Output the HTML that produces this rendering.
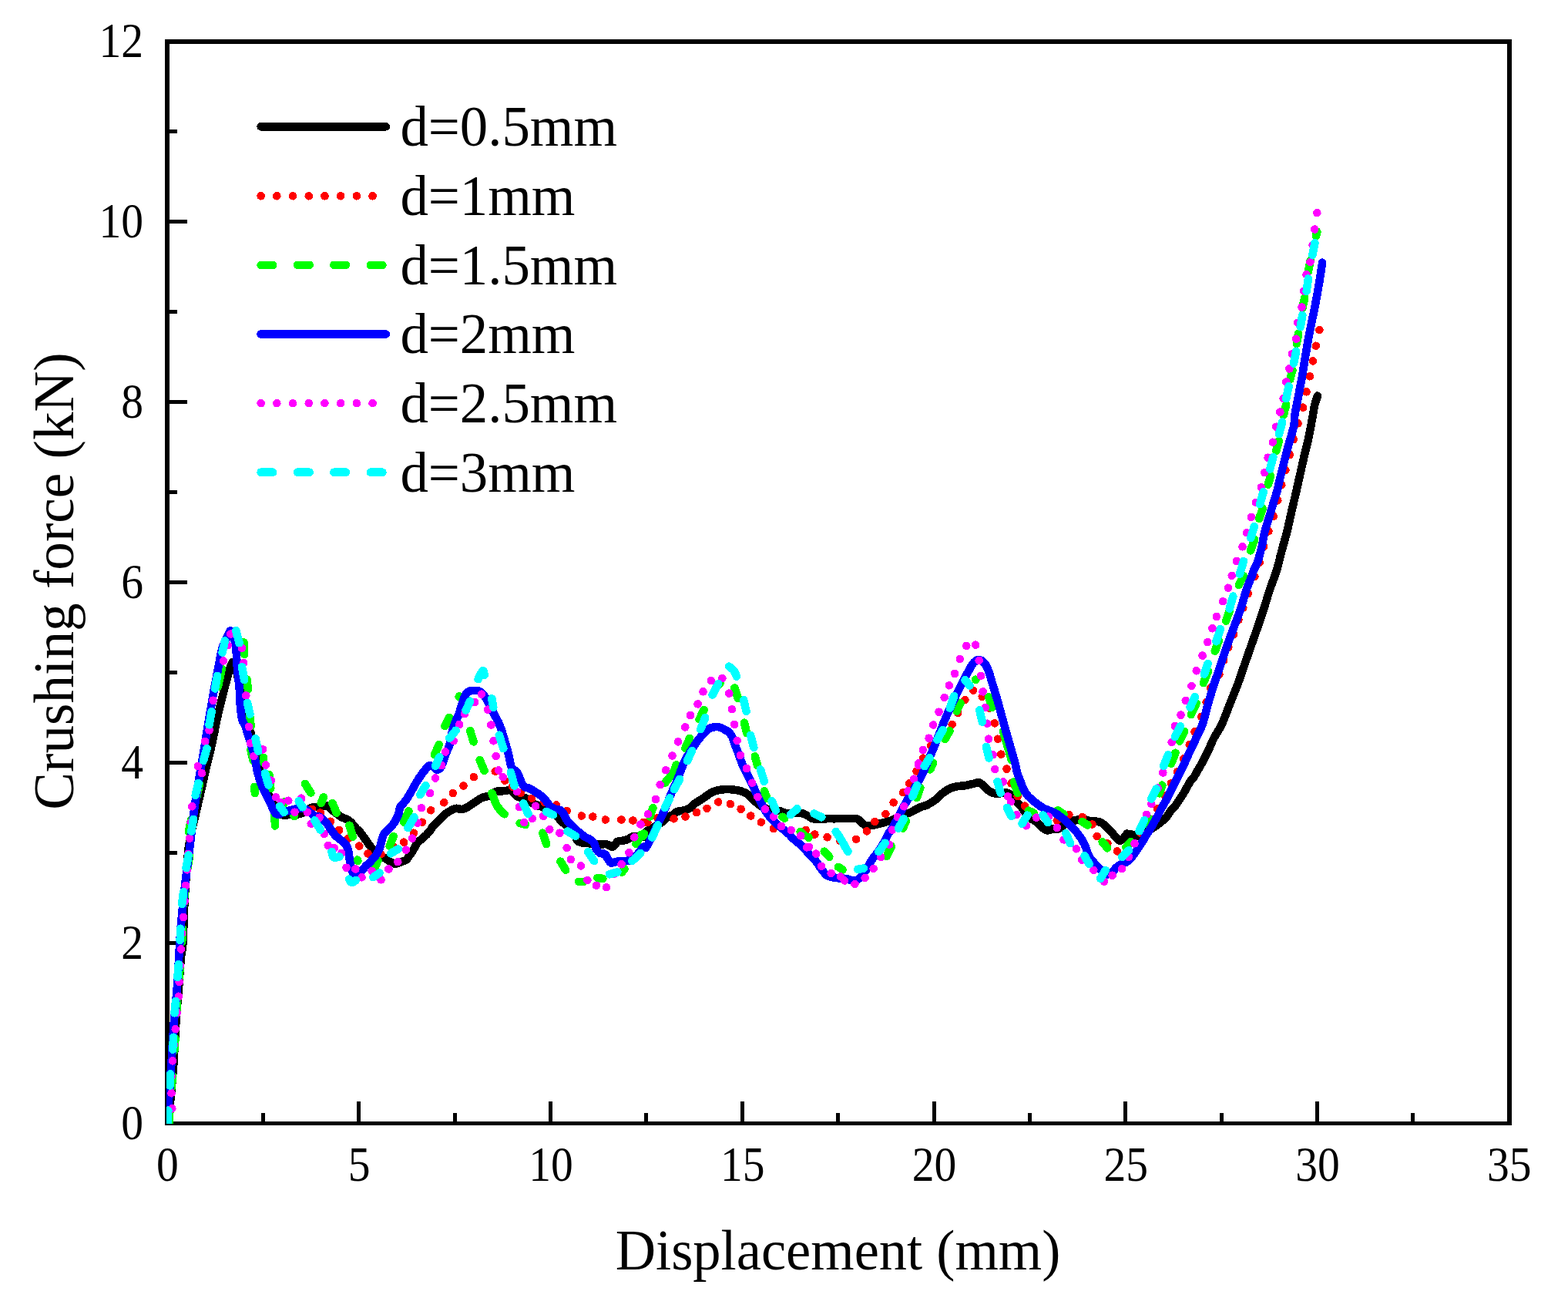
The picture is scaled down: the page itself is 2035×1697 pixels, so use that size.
<!DOCTYPE html>
<html lang="en">
<head>
<meta charset="utf-8">
<title>Crushing force vs displacement</title>
<style>
html,body{margin:0;padding:0;background:#fff;}
body{width:2035px;height:1697px;overflow:hidden;}
svg{display:block;}
text{font-family:"Liberation Serif","Times New Roman",serif;fill:#000;}
.tick{font-size:60px;}
.title{font-size:72.5px;}
.ytitle{font-size:73.2px;}
.leg{font-size:72.8px;}
.c{fill:none;stroke-width:10.6;stroke-linecap:round;stroke-linejoin:round;}
</style>
</head>
<body>
<svg xmlns="http://www.w3.org/2000/svg" width="2035" height="1697" viewBox="0 0 2035 1697">
<defs><clipPath id="plotclip"><rect x="216" y="54" width="1742" height="1404"/></clipPath></defs>
<rect x="0" y="0" width="2035" height="1697" fill="#ffffff"/>
<g class="axes" shape-rendering="crispEdges" fill="#000">
<rect x="214" y="51" width="1748" height="6"/>
<rect x="214" y="1455" width="1748" height="5"/>
<rect x="214" y="51" width="6" height="1409"/>
<rect x="1956" y="51" width="6" height="1409"/>
<rect x="339" y="1444" width="5" height="12"/>
<rect x="463" y="1429" width="5" height="27"/>
<rect x="588" y="1444" width="5" height="12"/>
<rect x="712" y="1429" width="5" height="27"/>
<rect x="836" y="1444" width="5" height="12"/>
<rect x="961" y="1429" width="5" height="27"/>
<rect x="1085" y="1444" width="5" height="12"/>
<rect x="1210" y="1429" width="5" height="27"/>
<rect x="1334" y="1444" width="5" height="12"/>
<rect x="1458" y="1429" width="5" height="27"/>
<rect x="1583" y="1444" width="5" height="12"/>
<rect x="1707" y="1429" width="5" height="27"/>
<rect x="1831" y="1444" width="5" height="12"/>
<rect x="219" y="1338" width="11" height="5"/>
<rect x="219" y="1221" width="24" height="5"/>
<rect x="219" y="1104" width="11" height="5"/>
<rect x="219" y="987" width="24" height="5"/>
<rect x="219" y="870" width="11" height="5"/>
<rect x="219" y="753" width="24" height="5"/>
<rect x="219" y="636" width="11" height="5"/>
<rect x="219" y="519" width="24" height="5"/>
<rect x="219" y="402" width="11" height="5"/>
<rect x="219" y="285" width="24" height="5"/>
<rect x="219" y="168" width="11" height="5"/>
</g>
<g class="curves" shape-rendering="crispEdges" clip-path="url(#plotclip)">
<path class="c" stroke="#000000" d="M218.5 1457.0C218.8 1453.3 219.9 1441.8 220.5 1435.0C221.1 1428.2 221.5 1425.3 222.3 1416.0C223.1 1406.7 224.4 1393.5 225.4 1379.0C226.4 1364.5 227.1 1345.7 228.2 1329.0C229.3 1312.3 231.1 1293.6 232.2 1279.0C233.3 1264.4 234.1 1250.9 235.0 1241.5C235.9 1232.1 236.7 1235.1 237.5 1222.7C238.3 1210.3 238.4 1187.8 239.7 1167.0C240.9 1146.2 242.8 1115.7 245.0 1098.0C247.2 1080.3 250.0 1073.2 252.8 1060.7C255.6 1048.2 259.0 1034.5 261.6 1023.0C264.2 1011.5 266.8 999.2 268.5 992.0C270.2 984.8 270.2 986.2 271.6 980.0C273.1 973.8 275.4 963.3 277.2 955.0C279.0 946.7 280.3 938.3 282.2 930.0C284.1 921.7 286.3 913.3 288.4 905.0C290.5 896.7 293.0 886.5 294.7 880.0C296.4 873.5 297.4 869.5 298.6 866.0C299.8 862.5 300.9 859.5 302.0 859.0C303.1 858.5 303.8 859.5 305.0 863.0C306.2 866.5 307.8 873.8 309.0 880.0C310.2 886.2 311.1 893.3 312.0 900.0C312.9 906.7 313.7 914.2 314.5 920.0C315.3 925.8 315.8 930.8 317.0 935.0C318.2 939.2 320.6 942.5 322.0 945.0C323.4 947.5 324.7 948.8 325.3 950.0C325.9 951.2 324.1 947.9 325.4 952.5C326.6 957.1 330.8 969.1 332.9 977.5C334.9 985.8 336.0 995.2 337.9 1002.5C339.7 1009.8 341.5 1015.0 344.1 1021.2C346.7 1027.4 351.0 1035.2 353.5 1039.9C355.9 1044.7 357.2 1047.2 358.7 1049.9C360.2 1052.6 360.6 1054.9 362.5 1056.2C364.3 1057.4 367.5 1057.3 370.0 1057.4C372.5 1057.5 374.5 1057.0 377.5 1056.8C380.4 1056.6 384.5 1056.7 387.4 1056.2C390.4 1055.7 392.4 1054.9 394.9 1053.7C397.4 1052.4 400.1 1049.8 402.4 1048.7C404.7 1047.6 406.4 1047.4 408.7 1047.1C411.0 1046.7 413.5 1047.0 416.2 1046.8C418.8 1046.6 422.1 1045.1 424.5 1045.7C426.9 1046.4 428.7 1049.0 430.7 1050.7C432.8 1052.4 434.9 1054.2 437.0 1055.7C439.1 1057.3 440.9 1058.8 443.2 1060.1C445.5 1061.3 448.6 1062.1 450.7 1063.2C452.8 1064.4 453.9 1065.1 455.7 1067.0C457.6 1068.8 459.9 1072.2 462.0 1074.5C464.1 1076.7 466.1 1078.2 468.2 1080.7C470.3 1083.2 472.4 1086.5 474.5 1089.4C476.5 1092.4 478.6 1095.7 480.7 1098.2C482.8 1100.7 484.9 1102.6 487.0 1104.4C489.0 1106.3 491.1 1108.0 493.2 1109.4C495.3 1110.9 497.2 1111.7 499.4 1113.2C501.7 1114.6 504.7 1116.9 506.9 1118.2C509.2 1119.4 510.9 1120.7 513.2 1120.7C515.5 1120.7 518.4 1119.0 520.7 1118.2C523.0 1117.3 525.1 1117.1 526.9 1115.7C528.8 1114.2 530.3 1111.7 531.9 1109.4C533.6 1107.1 535.3 1104.6 536.9 1101.9C538.6 1099.2 539.8 1095.7 541.9 1093.2C544.0 1090.7 546.9 1089.2 549.4 1086.9C551.9 1084.7 554.8 1081.9 556.9 1079.4C559.0 1077.0 559.8 1074.5 561.9 1072.0C564.0 1069.5 566.9 1067.0 569.4 1064.5C571.9 1062.0 574.4 1059.0 576.9 1057.0C579.4 1054.9 581.9 1053.3 584.4 1052.0C586.9 1050.6 589.4 1049.2 591.9 1048.8C594.4 1048.5 596.9 1050.4 599.4 1050.1C601.9 1049.8 604.4 1048.3 606.9 1047.0C609.4 1045.6 611.5 1043.8 614.4 1042.0C617.2 1040.1 621.6 1037.1 624.0 1035.7C626.4 1034.4 626.9 1034.5 629.0 1033.9C631.1 1033.2 634.0 1033.1 636.5 1032.0C639.0 1030.8 641.5 1027.9 644.0 1027.0C646.5 1026.0 649.2 1026.6 651.5 1026.4C653.8 1026.1 655.9 1026.0 657.7 1025.7C659.6 1025.4 661.3 1024.1 662.7 1024.5C664.2 1024.9 665.0 1026.8 666.5 1028.2C667.9 1029.7 669.8 1032.1 671.5 1033.2C673.1 1034.4 674.6 1034.7 676.5 1035.1C678.3 1035.5 680.8 1034.8 682.7 1035.7C684.6 1036.7 685.8 1039.5 687.7 1040.7C689.6 1042.0 692.1 1042.4 694.0 1043.2C695.8 1044.0 697.3 1044.8 699.0 1045.5C700.6 1046.1 700.2 1045.3 704.0 1047.2C707.7 1049.2 717.5 1054.3 721.4 1057.2C725.4 1060.1 725.6 1062.6 727.7 1064.7C729.8 1066.8 731.6 1068.2 733.9 1070.0C736.2 1071.7 739.3 1073.0 741.4 1075.2C743.5 1077.4 745.2 1080.7 746.4 1083.2C747.7 1085.7 747.7 1088.4 748.9 1090.1C750.2 1091.7 751.8 1092.6 753.9 1093.2C756.0 1093.8 759.3 1093.6 761.4 1093.8C763.5 1094.0 763.5 1094.1 766.4 1094.4C769.3 1094.8 775.8 1095.6 778.9 1095.7C782.0 1095.8 783.3 1095.0 785.2 1095.1C787.0 1095.2 788.7 1095.7 790.2 1096.3C791.6 1096.9 792.7 1098.7 793.9 1098.8C795.1 1098.9 796.4 1098.1 797.6 1096.9C798.9 1095.8 799.7 1093.0 801.4 1091.9C803.1 1090.9 805.4 1091.2 807.6 1090.7C809.9 1090.2 812.8 1089.8 815.1 1088.8C817.4 1087.9 819.1 1085.7 821.4 1085.1C823.7 1084.4 826.4 1085.0 828.9 1085.1C831.3 1085.2 834.8 1086.2 836.0 1085.7C837.2 1085.2 834.8 1083.6 836.1 1081.9C837.3 1080.3 841.0 1077.4 843.5 1075.7C846.0 1074.0 848.5 1073.4 851.0 1072.0C853.5 1070.5 856.0 1068.8 858.5 1067.0C861.0 1065.1 863.5 1062.4 866.0 1060.7C868.5 1059.0 871.4 1058.2 873.5 1057.0C875.6 1055.7 876.8 1054.0 878.5 1053.2C880.1 1052.4 881.8 1052.3 883.5 1052.0C885.1 1051.7 886.6 1051.9 888.5 1051.3C890.3 1050.8 892.6 1050.2 894.7 1048.8C896.8 1047.5 898.7 1045.0 901.0 1043.2C903.3 1041.5 906.0 1039.9 908.5 1038.2C911.0 1036.6 913.5 1034.9 916.0 1033.2C918.5 1031.6 921.0 1029.5 923.4 1028.2C925.9 1026.9 928.2 1026.1 930.9 1025.5C933.7 1024.8 936.8 1024.4 939.7 1024.2C942.6 1024.0 945.7 1024.1 948.4 1024.2C951.1 1024.4 953.4 1024.6 955.9 1025.1C958.4 1025.6 961.1 1026.1 963.4 1027.0C965.7 1027.8 967.8 1028.9 969.7 1030.1C971.5 1031.4 973.0 1032.9 974.7 1034.5C976.3 1036.0 977.8 1037.8 979.7 1039.5C981.5 1041.1 983.8 1043.0 985.9 1044.5C988.0 1045.9 990.1 1047.2 992.2 1048.2C994.2 1049.3 995.3 1050.1 998.4 1050.7C1001.5 1051.3 1007.6 1051.3 1010.9 1052.0C1014.2 1052.6 1015.9 1053.8 1018.4 1054.5C1020.9 1055.1 1023.4 1055.7 1025.9 1055.7C1028.4 1055.7 1030.9 1054.6 1033.4 1054.5C1035.9 1054.4 1038.4 1054.5 1040.9 1055.1C1043.3 1055.7 1045.8 1057.1 1048.0 1058.2C1050.2 1059.4 1052.2 1061.2 1054.2 1062.0C1056.3 1062.7 1057.4 1062.5 1060.5 1062.6C1063.6 1062.6 1068.8 1062.3 1073.0 1062.2C1077.1 1062.1 1081.3 1062.3 1085.5 1062.2C1089.6 1062.2 1094.4 1062.0 1098.0 1062.0C1101.5 1061.9 1104.2 1061.9 1106.7 1062.0C1109.2 1062.1 1111.1 1061.8 1113.0 1062.6C1114.8 1063.4 1116.3 1065.6 1118.0 1067.0C1119.6 1068.3 1121.1 1070.0 1123.0 1070.7C1124.8 1071.4 1127.1 1071.4 1129.2 1071.3C1131.3 1071.2 1133.2 1070.6 1135.4 1070.1C1137.7 1069.6 1140.4 1068.8 1142.9 1068.2C1145.4 1067.6 1148.1 1067.0 1150.4 1066.3C1152.7 1065.7 1152.9 1066.0 1156.7 1064.5C1160.4 1062.9 1169.0 1058.6 1172.9 1057.0C1176.9 1055.3 1177.9 1055.5 1180.4 1054.5C1182.9 1053.4 1185.4 1052.0 1187.9 1050.7C1190.4 1049.5 1192.9 1048.0 1195.4 1047.0C1197.9 1045.9 1200.4 1045.6 1202.9 1044.5C1205.4 1043.3 1208.1 1041.6 1210.4 1040.1C1212.7 1038.6 1214.6 1037.5 1216.7 1035.7C1218.7 1034.0 1220.8 1031.2 1222.9 1029.5C1225.0 1027.7 1227.1 1026.4 1229.1 1025.1C1231.2 1023.9 1233.1 1022.8 1235.4 1022.0C1237.7 1021.1 1240.4 1020.5 1242.9 1020.1C1245.4 1019.7 1247.5 1019.9 1250.4 1019.5C1253.2 1019.1 1257.6 1018.1 1260.0 1017.6C1262.4 1017.1 1263.3 1016.8 1265.0 1016.4C1266.7 1015.9 1268.3 1014.8 1270.0 1015.1C1271.7 1015.4 1273.3 1016.9 1275.0 1018.2C1276.7 1019.6 1278.3 1021.8 1280.0 1023.2C1281.7 1024.7 1283.1 1025.9 1285.0 1027.0C1286.9 1028.0 1289.1 1029.1 1291.2 1029.5C1293.3 1029.9 1295.6 1029.7 1297.5 1029.5C1299.4 1029.3 1300.8 1028.3 1302.5 1028.2C1304.1 1028.1 1305.8 1028.2 1307.5 1028.9C1309.1 1029.5 1310.8 1030.4 1312.5 1032.0C1314.1 1033.5 1315.8 1036.3 1317.5 1038.2C1319.1 1040.1 1320.8 1041.3 1322.5 1043.2C1324.1 1045.1 1325.8 1047.2 1327.5 1049.5C1329.1 1051.8 1330.8 1054.9 1332.5 1057.0C1334.1 1059.0 1335.8 1060.7 1337.5 1062.0C1339.1 1063.2 1340.8 1063.4 1342.5 1064.5C1344.1 1065.5 1345.8 1066.7 1347.4 1068.2C1349.1 1069.7 1350.8 1071.7 1352.4 1073.2C1354.1 1074.7 1355.8 1076.3 1357.4 1077.0C1359.1 1077.6 1360.8 1077.3 1362.4 1077.0C1364.1 1076.6 1365.8 1075.3 1367.4 1075.1C1369.1 1074.9 1370.8 1076.0 1372.4 1075.7C1374.1 1075.4 1375.8 1074.2 1377.4 1073.2C1379.1 1072.2 1380.6 1070.7 1382.4 1069.5C1384.3 1068.2 1386.6 1066.5 1388.7 1065.7C1390.8 1064.9 1392.8 1064.9 1394.9 1064.5C1397.0 1064.0 1399.1 1063.4 1401.2 1063.2C1403.2 1063.0 1405.1 1062.9 1407.4 1063.2C1409.7 1063.5 1412.4 1064.7 1414.9 1065.1C1417.4 1065.5 1420.1 1065.4 1422.4 1065.7C1424.7 1066.0 1426.8 1066.1 1428.7 1067.0C1430.5 1067.8 1432.0 1069.2 1433.6 1070.7C1435.3 1072.2 1437.0 1074.0 1438.6 1075.7C1440.3 1077.4 1442.0 1078.8 1443.6 1080.7C1445.3 1082.6 1447.0 1085.3 1448.6 1086.9C1450.3 1088.6 1452.0 1090.7 1453.6 1090.7C1455.3 1090.7 1457.2 1088.4 1458.6 1086.9C1460.1 1085.5 1461.7 1082.7 1462.4 1081.9C1463.0 1081.2 1461.6 1082.3 1462.5 1082.4C1463.3 1082.5 1465.6 1082.2 1467.5 1082.4C1469.3 1082.6 1471.8 1083.2 1473.7 1083.7C1475.6 1084.1 1476.4 1085.5 1478.7 1084.9C1481.0 1084.3 1484.7 1081.6 1487.4 1079.9C1490.2 1078.3 1492.4 1076.6 1494.9 1074.9C1497.4 1073.3 1500.1 1071.6 1502.4 1069.9C1504.7 1068.3 1506.6 1066.8 1508.7 1064.9C1510.8 1063.1 1513.1 1061.0 1514.9 1058.7C1516.8 1056.4 1518.3 1053.3 1519.9 1051.2C1521.6 1049.1 1523.3 1048.3 1524.9 1046.2C1526.6 1044.1 1528.3 1041.2 1529.9 1038.7C1531.6 1036.2 1533.3 1033.9 1534.9 1031.2C1536.6 1028.5 1538.3 1025.4 1539.9 1022.5C1541.6 1019.5 1543.2 1016.2 1544.9 1013.7C1546.6 1011.2 1548.2 1010.0 1549.9 1007.5C1551.6 1005.0 1553.2 1001.6 1554.9 998.7C1556.6 995.8 1558.2 993.1 1559.9 990.0C1561.6 986.8 1563.2 983.3 1564.9 980.0C1566.6 976.6 1568.2 973.5 1569.9 970.0C1571.6 966.4 1572.3 963.8 1574.9 958.7C1577.5 953.7 1582.1 947.2 1585.6 939.9C1589.0 932.6 1592.2 923.2 1595.6 914.9C1598.9 906.6 1602.4 898.2 1605.6 889.9C1608.7 881.6 1611.4 873.3 1614.3 864.9C1617.2 856.6 1620.1 848.3 1623.0 839.9C1626.0 831.6 1628.9 823.3 1631.8 815.0C1634.6 806.6 1637.4 798.3 1640.2 790.0C1642.9 781.6 1645.2 773.3 1648.0 765.0C1650.8 756.6 1654.4 748.2 1656.9 739.9C1659.5 731.5 1661.2 723.2 1663.4 714.9C1665.6 706.6 1668.2 698.2 1670.3 689.9C1672.4 681.6 1674.0 673.3 1675.9 664.9C1677.8 656.6 1679.9 648.3 1681.8 639.9C1683.7 631.6 1685.5 623.3 1687.4 615.0C1689.3 606.6 1691.1 598.3 1693.0 590.0C1695.0 581.6 1697.3 573.3 1699.0 565.0C1700.8 556.6 1702.5 546.1 1703.7 539.9C1704.8 533.6 1705.0 531.1 1705.8 527.4C1706.6 523.6 1708.0 519.7 1708.7 517.4C1709.3 515.1 1709.7 514.3 1709.9 513.6"/>
<path class="c" stroke="#ff0000" d="M404.9 1049.9h0.01M415.7 1054.5h0.01M428.9 1065.7h0.01M440.1 1077.0h0.01M452.0 1087.6h0.01M466.3 1097.6h0.01M477.6 1107.6h0.01M494.5 1108.2h0.01M510.7 1098.8h0.01M524.2 1092.6h0.01M536.9 1080.7h0.01M547.9 1066.7h0.01M559.2 1051.3h0.01M576.3 1041.3h0.01M587.8 1029.1h0.01M601.5 1019.5h0.01M614.8 1008.2h0.01M642.7 1000.7h0.01M655.2 1012.6h0.01M665.2 1020.7h0.01M675.8 1028.9h0.01M690.2 1035.7h0.01M706.5 1040.7h0.01M722.1 1044.5h0.01M735.8 1052.0h0.01M754.8 1058.5h0.01M769.3 1059.5h0.01M785.8 1063.5h0.01M806.4 1063.5h0.01M821.4 1064.5h0.01M835.1 1067.0h0.01M840.4 1067.0h0.01M853.5 1061.3h0.01M874.5 1062.2h0.01M889.5 1059.5h0.01M904.1 1054.1h0.01M917.5 1048.8h0.01M932.2 1040.5h0.01M947.8 1043.2h0.01M961.6 1049.7h0.01M974.3 1058.5h0.01M987.8 1066.7h0.01M1003.8 1075.1h0.01M1045.9 1077.0h0.01M1057.4 1082.6h0.01M1073.6 1086.3h0.01M1089.9 1090.7h0.01M1111.1 1088.8h0.01M1124.8 1078.4h0.01M1135.4 1066.0h0.01M1149.4 1056.1h0.01M1159.6 1041.3h0.01M1172.1 1028.2h0.01M1180.2 1016.4h0.01M1189.5 1000.5h0.01M1263.1 895.6h0.01M1252.4 908.1h0.01M1274.7 903.7h0.01M1243.1 924.9h0.01M1283.7 918.7h0.01M1235.6 939.9h0.01M1290.8 938.4h0.01M1294.9 958.7h0.01M1208.1 967.4h0.01M1299.3 978.6h0.01M1198.1 983.6h0.01M1306.5 997.6h0.01M1312.5 1016.4h0.01M1320.6 1033.2h0.01M1330.0 1045.7h0.01M1371.8 1064.5h0.01M1387.4 1057.0h0.01M1404.9 1060.1h0.01M1417.4 1069.5h0.01M1423.7 1085.1h0.01M1437.4 1094.4h0.01M1449.9 1104.4h0.01M1481.2 1081.2h0.01M1493.1 1063.1h0.01M1501.8 1049.3h0.01M1511.8 1032.4h0.01M1519.9 1016.2h0.01M1528.0 1001.2h0.01M1536.2 984.3h0.01M1543.7 966.2h0.01M1550.5 949.4h0.01M1619.9 770.0h0.01M1613.3 788.7h0.01M1607.4 804.3h0.01M1601.2 823.1h0.01M1594.3 839.9h0.01M1588.1 856.8h0.01M1582.4 874.9h0.01M1571.2 892.4h0.01M1565.6 911.1h0.01M1559.3 929.9h0.01M1684.5 549.4h0.01M1678.9 570.0h0.01M1673.9 590.0h0.01M1668.3 610.0h0.01M1663.3 629.3h0.01M1658.3 649.3h0.01M1652.7 669.9h0.01M1646.4 689.3h0.01M1640.2 709.3h0.01M1634.6 729.9h0.01M1628.3 748.0h0.01M1712.4 428.1h0.01M1707.8 448.7h0.01M1703.9 468.4h0.01M1699.9 488.3h0.01M1695.5 508.4h0.01M1691.2 528.6h0.01"/>
<path class="c" stroke="#00ff00" d="M220.3 1442.7L219.4 1456.7M223.7 1395.5L222.9 1410.6M236.8 1204.7L236.2 1221.9M233.9 1252.4L232.6 1269.3M230.2 1300.2L228.9 1315.5M227.4 1347.1L226.5 1363.0M258.9 1017.2L255.5 1033.0M248.2 1063.4L244.8 1079.3M246.0 1110.9L243.3 1127.3M240.0 1158.4L238.1 1174.1M282.9 891.0L287.9 867.6M316.4 833.4L317.2 849.0M320.5 881.5L321.9 894.7M324.2 928.9L325.6 942.1M325.4 972.6L328.5 986.8M330.3 1020.9L330.9 1029.0M349.3 1005.2L351.3 1022.8M342.0 982.8L342.3 989.7M356.4 1057.7L357.0 1071.5M368.0 1043.7L369.4 1039.9M381.3 1057.6L381.7 1059.2M395.9 1016.9L403.3 1028.6M416.6 1042.1L419.9 1034.3M431.5 1041.9L436.8 1054.6M453.5 1070.8L457.9 1085.6M463.9 1115.6L464.4 1117.0M490.5 1116.2L487.2 1123.9M510.6 1085.0L505.7 1097.6M530.4 1052.4L524.1 1066.5M563.9 979.4L569.7 966.0M577.4 942.1L583.1 930.9M595.7 904.1L596.1 903.3M610.2 948.1L614.6 962.3M622.6 986.0L628.5 1000.0M674.7 1067.8L682.0 1069.9M704.4 1080.7L709.1 1095.0M727.4 1117.7L734.2 1128.7M751.1 1143.8L757.4 1143.8M775.4 1138.9L782.4 1139.9M807.2 1131.5L810.6 1127.3M832.4 1082.8L825.3 1094.9M847.4 1048.2L843.4 1059.5M836.1 1081.7L834.6 1084.7M992.1 1026.4L995.4 1035.7M1015.4 1059.8L1018.3 1061.6M1038.7 1079.1L1043.9 1083.5M877.7 992.3C877.0 994.0 875.9 998.5 873.5 1002.4C871.0 1006.3 864.8 1013.5 863.0 1015.7M895.1 957.9L889.4 970.7M913.6 920.9L907.6 933.3M934.6 885.8L933.5 887.8M953.3 892.5L958.0 906.2M965.9 937.6L969.1 951.0M979.8 981.3L983.2 993.5M1049.0 1086.0L1049.5 1086.7M1069.7 1104.6L1076.3 1111.8M1088.0 1124.8L1093.5 1128.4M1156.9 1098.0L1150.8 1110.9M1175.9 1065.0L1171.9 1074.6M1194.3 1022.0L1189.7 1035.1M1208.6 994.5L1207.2 998.3M1266.0 881.7L1266.4 881.9M1246.4 912.2L1241.6 922.6M1232.4 948.3L1226.3 959.0M1211.0 989.8L1207.7 997.5M1283.3 904.4L1287.2 918.0M1302.0 948.8L1312.8 986.0M1316.0 1014.5L1320.8 1028.8M1334.8 1051.7L1341.4 1054.7M1373.0 1051.2L1380.6 1056.4M1404.4 1066.0L1411.6 1070.4M1430.7 1092.3L1437.2 1100.3M1467.6 1092.2L1461.5 1099.2M1491.5 1061.9L1489.0 1069.9M1508.3 1018.7L1504.7 1029.3M1525.5 976.8L1520.0 990.7M1537.0 949.1L1531.0 961.5M1595.7 792.5L1591.1 805.6M1581.8 831.2L1576.8 844.7M1568.0 871.1L1561.9 886.0M1552.7 912.2L1545.9 927.0M1666.3 537.2L1666.0 537.8M1659.8 572.0L1656.3 584.9M1649.1 617.5L1645.8 628.6M1638.8 659.9L1634.2 673.0M1628.2 699.9L1623.0 714.3M1613.8 747.1L1607.8 758.9M1700.8 337.7L1697.8 352.3M1693.2 386.4L1690.4 399.8M1685.2 432.7L1682.8 446.0M1677.4 480.1L1674.3 492.3M1669.2 525.0L1665.7 538.5M1709.3 300.7L1708.0 306.0M638.4 1028.9C639.5 1031.7 642.5 1041.1 645.2 1045.7C647.9 1050.3 653.0 1054.6 654.6 1056.3"/>
<path class="c" stroke="#0000ff" d="M216.8 1457.0C217.0 1453.3 217.7 1441.8 218.2 1435.0C218.7 1428.2 219.3 1425.3 220.0 1416.0C220.7 1406.7 221.6 1393.5 222.5 1379.0C223.4 1364.5 224.3 1345.7 225.6 1329.0C226.8 1312.3 228.5 1299.8 230.0 1279.0C231.5 1258.2 232.8 1226.8 234.6 1204.0C236.4 1181.2 238.9 1159.7 240.9 1142.0C242.9 1124.3 244.7 1112.6 246.5 1098.0C248.3 1083.4 249.4 1070.1 251.5 1054.5C253.6 1038.9 257.6 1014.9 259.3 1004.5C261.0 994.1 260.4 998.2 261.5 992.0C262.6 985.8 263.2 981.9 265.6 967.4C268.0 952.9 273.1 921.7 276.0 905.0C278.9 888.3 281.1 877.8 283.1 867.4C285.1 857.0 286.4 848.7 288.1 842.5C289.8 836.3 291.8 833.1 293.1 830.0C294.5 826.9 295.3 825.6 296.2 823.7C297.1 821.8 297.8 818.9 298.7 818.5C299.6 818.1 300.9 819.3 301.8 821.2C302.7 823.1 303.5 826.5 304.3 830.0C305.1 833.5 305.8 836.3 306.4 842.5C307.0 848.7 307.3 859.1 308.0 867.4C308.7 875.7 309.9 884.1 310.6 892.4C311.3 900.7 311.4 910.5 312.0 917.4C312.6 924.3 313.2 929.5 314.3 933.7C315.4 937.9 317.5 939.3 318.7 942.4C319.9 945.5 319.7 946.6 321.5 952.5C323.3 958.3 327.2 969.1 329.4 977.5C331.5 985.8 332.5 995.2 334.4 1002.5C336.2 1009.8 338.0 1015.0 340.6 1021.2C343.2 1027.4 347.5 1034.7 350.0 1039.9C352.5 1045.1 353.9 1049.7 355.6 1052.4C357.3 1055.2 357.6 1056.5 360.0 1056.6C362.4 1056.7 367.0 1054.0 370.0 1053.1C372.9 1052.2 374.5 1051.9 377.5 1051.2C380.4 1050.5 384.5 1049.0 387.4 1048.7C390.4 1048.4 392.9 1048.8 394.9 1049.3C397.0 1049.8 397.9 1050.4 399.9 1051.8C402.0 1053.3 404.9 1056.7 407.4 1058.1C409.9 1059.4 412.4 1058.6 414.9 1059.9C417.4 1061.3 420.1 1063.7 422.4 1066.2C424.7 1068.7 426.6 1072.0 428.7 1074.9C430.8 1077.8 432.6 1081.2 434.9 1083.7C437.2 1086.2 440.1 1087.9 442.4 1089.9C444.7 1091.9 447.1 1093.5 448.7 1095.5C450.2 1097.6 451.0 1099.2 451.8 1102.4C452.6 1105.6 453.0 1111.1 453.7 1114.9C454.3 1118.6 454.7 1121.8 455.5 1124.9C456.4 1128.0 457.5 1132.0 458.7 1133.6C459.8 1135.3 460.9 1135.3 462.4 1134.9C463.9 1134.5 465.3 1133.0 467.4 1131.1C469.5 1129.3 472.4 1126.1 474.9 1123.6C477.4 1121.1 480.1 1118.6 482.4 1116.1C484.7 1113.6 486.9 1111.4 488.6 1108.7C490.4 1105.9 491.9 1103.0 493.0 1099.9C494.2 1096.8 494.7 1092.8 495.5 1089.9C496.3 1087.0 496.9 1084.5 498.0 1082.4C499.2 1080.3 500.8 1079.1 502.4 1077.4C503.9 1075.8 505.8 1074.2 507.4 1072.4C509.0 1070.7 510.3 1069.5 511.9 1067.0C513.5 1064.4 515.7 1060.3 516.9 1057.0C518.2 1053.6 517.8 1050.1 519.4 1047.0C521.1 1043.8 524.4 1041.8 526.9 1038.2C529.4 1034.7 532.1 1029.7 534.4 1025.7C536.7 1021.8 538.4 1018.2 540.7 1014.5C543.0 1010.7 545.9 1006.4 548.2 1003.2C550.5 1000.1 552.9 997.5 554.4 995.7C556.0 994.0 556.1 993.2 557.5 993.0C558.8 992.9 560.8 993.9 562.5 994.9C564.1 995.8 565.8 998.6 567.5 998.6C569.1 998.6 571.0 997.2 572.5 994.9C573.9 992.6 575.0 988.2 576.2 984.9C577.5 981.6 578.7 978.0 580.0 974.9C581.2 971.8 582.2 970.7 583.5 966.2C584.7 961.6 586.2 952.4 587.4 947.4C588.7 942.4 589.9 939.5 591.2 936.2C592.5 932.8 593.7 931.4 595.2 927.4C596.7 923.5 598.5 916.6 599.9 912.4C601.4 908.3 602.5 904.8 603.7 902.4C604.8 900.0 605.8 899.1 606.8 898.1C607.9 897.1 608.4 896.8 609.9 896.4C611.5 896.1 614.1 895.9 616.2 895.9C618.3 896.0 620.6 895.9 622.4 896.8C624.3 897.7 625.8 899.2 627.4 901.2C629.1 903.2 630.8 905.8 632.4 908.7C634.1 911.6 635.9 915.6 637.4 918.7C639.0 921.8 639.9 923.7 641.8 927.4C643.7 931.2 646.4 935.3 648.7 941.2C651.0 947.0 653.6 955.7 655.5 962.4C657.5 969.1 659.2 975.7 660.5 981.1C661.9 986.6 661.9 991.3 663.7 994.9C665.4 998.4 669.0 999.1 671.1 1002.4C673.3 1005.6 675.0 1011.4 676.5 1014.5C678.0 1017.5 678.6 1019.4 680.2 1020.7C681.9 1022.1 684.2 1021.6 686.5 1022.6C688.8 1023.6 691.5 1025.4 694.0 1027.0C696.5 1028.5 699.0 1029.9 701.5 1032.0C704.0 1034.1 706.9 1037.2 709.0 1039.5C711.0 1041.8 712.1 1044.1 713.9 1045.7C715.8 1047.4 718.1 1048.6 720.2 1049.5C722.3 1050.3 724.6 1049.7 726.4 1050.7C728.3 1051.8 730.0 1053.6 731.4 1055.7C732.9 1057.8 733.7 1060.9 735.2 1063.2C736.6 1065.5 738.3 1067.4 740.2 1069.5C742.1 1071.5 744.3 1073.8 746.4 1075.7C748.5 1077.6 750.6 1079.0 752.7 1080.7C754.8 1082.4 756.6 1084.2 758.9 1085.7C761.2 1087.2 764.3 1088.0 766.4 1089.4C768.5 1090.9 770.2 1092.4 771.4 1094.4C772.7 1096.5 772.7 1099.9 773.9 1101.9C775.2 1104.0 777.0 1105.9 778.9 1106.9C780.8 1108.0 783.5 1106.9 785.2 1108.2C786.8 1109.4 787.7 1112.6 788.9 1114.4C790.2 1116.3 791.0 1118.8 792.7 1119.4C794.3 1120.0 796.8 1118.6 798.9 1118.2C801.0 1117.8 803.1 1117.1 805.1 1116.9C807.2 1116.7 809.1 1117.1 811.4 1116.9C813.7 1116.7 816.4 1116.9 818.9 1115.7C821.4 1114.4 824.3 1111.5 826.4 1109.4C828.5 1107.3 829.8 1105.1 831.4 1103.2C833.0 1101.3 834.8 1098.8 836.0 1098.2C837.2 1097.6 836.8 1101.5 838.5 1099.4C840.2 1097.4 843.5 1090.7 846.0 1085.7C848.5 1080.7 851.2 1074.2 853.5 1069.5C855.8 1064.7 857.7 1061.5 859.7 1057.0C861.8 1052.4 863.9 1047.0 866.0 1042.0C868.1 1037.0 870.1 1031.8 872.2 1027.0C874.3 1022.2 875.8 1019.8 878.5 1013.2C881.2 1006.6 885.8 993.4 888.5 987.4C891.2 981.4 892.6 980.7 894.7 977.4C896.8 974.1 898.9 970.5 901.0 967.4C903.0 964.3 905.1 961.4 907.2 958.7C909.3 956.0 911.4 953.3 913.5 951.2C915.5 949.0 917.6 946.8 919.7 945.5C921.8 944.2 923.7 943.8 925.9 943.4C928.2 943.1 931.2 943.0 933.4 943.4C935.7 943.9 937.6 945.1 939.7 946.2C941.8 947.2 944.2 948.2 945.9 949.9C947.7 951.6 949.1 953.7 950.3 956.2C951.6 958.7 952.3 961.8 953.4 964.9C954.6 968.0 955.9 971.6 957.2 974.9C958.4 978.2 959.7 981.6 960.9 984.9C962.2 988.2 963.4 992.0 964.7 994.9C965.9 997.7 967.0 999.1 968.4 1002.0C969.9 1004.8 971.8 1008.7 973.4 1012.0C975.1 1015.3 976.8 1018.4 978.4 1022.0C980.1 1025.5 981.7 1029.7 983.4 1033.2C985.1 1036.8 986.7 1040.1 988.4 1043.2C990.1 1046.3 991.5 1049.0 993.4 1052.0C995.3 1054.9 997.4 1058.0 999.7 1060.7C1001.9 1063.4 1004.7 1065.9 1007.1 1068.2C1009.6 1070.5 1011.9 1072.2 1014.6 1074.5C1017.4 1076.7 1020.7 1079.4 1023.4 1081.9C1026.1 1084.4 1028.4 1087.2 1030.9 1089.4C1033.4 1091.7 1035.9 1093.4 1038.4 1095.7C1040.9 1098.0 1044.3 1101.5 1045.9 1103.2C1047.5 1104.9 1046.6 1104.2 1048.0 1105.7C1049.4 1107.1 1052.2 1109.6 1054.2 1111.9C1056.3 1114.2 1058.6 1116.9 1060.5 1119.4C1062.4 1121.9 1063.4 1124.2 1065.5 1126.9C1067.6 1129.6 1070.5 1133.8 1073.0 1135.7C1075.5 1137.5 1077.8 1137.5 1080.5 1138.2C1083.2 1138.8 1086.3 1139.1 1089.2 1139.4C1092.1 1139.7 1095.5 1139.6 1098.0 1140.0C1100.5 1140.5 1102.1 1141.5 1104.2 1141.9C1106.3 1142.3 1108.6 1143.0 1110.5 1142.5C1112.3 1142.1 1113.8 1141.0 1115.5 1139.4C1117.1 1137.9 1118.8 1135.2 1120.5 1133.2C1122.1 1131.1 1124.0 1129.2 1125.5 1126.9C1126.9 1124.6 1127.7 1121.9 1129.2 1119.4C1130.7 1116.9 1132.5 1114.2 1134.2 1111.9C1135.9 1109.6 1137.5 1108.0 1139.2 1105.7C1140.9 1103.4 1142.5 1100.9 1144.2 1098.2C1145.9 1095.5 1147.7 1092.1 1149.2 1089.4C1150.6 1086.7 1151.1 1085.0 1152.9 1081.9C1154.7 1078.9 1157.0 1076.5 1160.0 1071.1C1163.0 1065.8 1167.0 1057.2 1171.0 1049.9C1174.9 1042.6 1179.5 1034.7 1183.7 1027.4C1187.9 1020.1 1192.7 1013.1 1196.2 1006.2C1199.7 999.3 1202.2 992.4 1204.9 986.2C1207.7 980.0 1209.9 974.7 1212.4 968.7C1214.9 962.7 1217.4 956.2 1219.9 950.0C1222.4 943.7 1223.9 939.4 1227.4 931.2C1231.0 923.1 1237.9 908.3 1241.2 901.2C1244.5 894.1 1245.6 892.4 1247.4 888.7C1249.3 885.0 1250.8 881.8 1252.4 878.7C1254.1 875.6 1255.8 872.9 1257.4 870.0C1259.1 867.0 1260.8 863.4 1262.4 861.2C1264.1 859.0 1265.9 857.7 1267.4 856.8C1269.0 856.0 1270.4 855.9 1271.8 856.2C1273.3 856.5 1274.8 857.5 1276.2 858.7C1277.5 860.0 1278.7 861.4 1279.9 863.7C1281.2 866.0 1282.4 868.9 1283.7 872.5C1284.9 876.0 1286.2 880.8 1287.4 885.0C1288.7 889.1 1289.9 893.3 1291.2 897.4C1292.4 901.6 1293.7 905.6 1294.9 909.9C1296.2 914.3 1297.4 919.1 1298.7 923.7C1299.9 928.3 1301.2 932.8 1302.4 937.4C1303.7 942.0 1304.9 946.8 1306.2 951.2C1307.4 955.5 1308.7 959.3 1309.9 963.7C1311.2 968.0 1312.4 973.0 1313.7 977.4C1314.9 981.8 1316.4 985.8 1317.4 989.9C1318.5 994.0 1318.9 998.3 1320.0 1002.0C1321.0 1005.7 1322.5 1008.7 1323.7 1012.0C1325.0 1015.3 1326.0 1018.9 1327.5 1022.0C1328.9 1025.1 1330.6 1028.2 1332.5 1030.7C1334.3 1033.2 1336.4 1034.9 1338.7 1037.0C1341.0 1039.1 1343.7 1041.3 1346.2 1043.2C1348.7 1045.1 1351.2 1046.9 1353.7 1048.2C1356.2 1049.6 1358.7 1050.3 1361.2 1051.3C1363.7 1052.4 1366.2 1053.1 1368.7 1054.5C1371.2 1055.8 1373.9 1057.8 1376.2 1059.5C1378.5 1061.1 1380.3 1062.6 1382.4 1064.5C1384.5 1066.3 1386.6 1068.6 1388.7 1070.7C1390.8 1072.8 1393.0 1074.9 1394.9 1077.0C1396.8 1079.0 1398.3 1080.9 1399.9 1083.2C1401.6 1085.5 1403.5 1088.2 1404.9 1090.7C1406.4 1093.2 1407.6 1095.7 1408.7 1098.2C1409.7 1100.7 1410.1 1103.2 1411.2 1105.7C1412.2 1108.2 1413.5 1110.9 1414.9 1113.2C1416.4 1115.5 1418.2 1117.6 1419.9 1119.4C1421.6 1121.3 1423.0 1122.5 1424.9 1124.4C1426.8 1126.3 1429.1 1129.0 1431.1 1130.7C1433.2 1132.3 1435.3 1134.3 1437.4 1134.4C1439.5 1134.5 1441.8 1132.8 1443.6 1131.3C1445.5 1129.8 1446.8 1127.3 1448.6 1125.7C1450.5 1124.0 1452.6 1122.5 1454.9 1121.3C1457.2 1120.0 1460.3 1119.5 1462.4 1118.2C1464.5 1116.9 1465.8 1115.4 1467.5 1113.6C1469.1 1111.9 1470.8 1109.7 1472.5 1107.4C1474.1 1105.1 1475.8 1102.4 1477.5 1099.9C1479.1 1097.4 1480.8 1095.1 1482.5 1092.4C1484.1 1089.7 1485.8 1086.4 1487.4 1083.7C1489.1 1081.0 1490.8 1078.9 1492.4 1076.2C1494.1 1073.5 1495.8 1070.3 1497.4 1067.4C1499.1 1064.5 1500.8 1061.8 1502.4 1058.7C1504.1 1055.6 1505.8 1051.8 1507.4 1048.7C1509.1 1045.6 1510.8 1043.1 1512.4 1039.9C1514.1 1036.8 1515.8 1033.3 1517.4 1029.9C1519.1 1026.6 1520.8 1023.3 1522.4 1020.0C1524.1 1016.6 1525.8 1013.3 1527.4 1010.0C1529.1 1006.6 1530.8 1003.3 1532.4 1000.0C1534.1 996.6 1535.8 993.5 1537.4 990.0C1539.1 986.4 1540.8 982.3 1542.4 978.7C1544.1 975.2 1545.7 972.3 1547.4 968.7C1549.1 965.2 1550.2 962.3 1552.4 957.5C1554.6 952.7 1558.1 947.0 1560.6 939.9C1563.1 932.8 1565.1 923.2 1567.4 914.9C1569.8 906.6 1572.3 898.2 1574.9 889.9C1577.6 881.6 1580.6 873.3 1583.4 864.9C1586.3 856.6 1588.9 848.3 1591.8 839.9C1594.7 831.6 1597.9 823.3 1600.9 815.0C1604.0 806.6 1607.4 798.3 1610.2 790.0C1613.0 781.6 1615.2 772.3 1617.7 765.0C1620.2 757.7 1623.6 750.3 1625.2 746.1C1626.8 741.9 1625.8 743.0 1627.1 739.9C1628.3 736.8 1630.9 732.6 1632.7 727.4C1634.5 722.2 1636.2 714.9 1637.7 708.7C1639.1 702.4 1639.9 696.2 1641.4 689.9C1643.0 683.7 1645.2 677.4 1647.1 671.2C1648.9 664.9 1650.9 658.3 1652.7 652.4C1654.4 646.6 1656.2 641.6 1657.7 636.2C1659.1 630.8 1660.1 625.6 1661.4 620.0C1662.8 614.3 1664.3 608.3 1665.8 602.5C1667.3 596.6 1668.6 590.8 1670.2 585.0C1671.7 579.1 1673.6 573.1 1675.2 567.5C1676.7 561.9 1678.7 555.8 1679.5 551.2C1680.4 546.6 1679.3 545.9 1680.2 539.9C1681.1 533.8 1683.3 523.2 1684.9 514.9C1686.5 506.6 1688.2 498.2 1689.7 489.9C1691.1 481.6 1692.3 473.3 1693.7 464.9C1695.1 456.6 1696.5 448.3 1698.0 439.9C1699.6 431.6 1701.4 423.3 1703.0 415.0C1704.7 406.6 1706.5 398.3 1708.0 390.0C1709.6 381.6 1711.1 373.2 1712.4 365.0C1713.8 356.8 1715.5 344.7 1716.2 340.6"/>
<path class="c" stroke="#ff00ff" d="M222.5 1418.2h0.01M223.3 1438.3h0.01M236.2 1210.9h0.01M235.0 1231.5h0.01M234.0 1252.7h0.01M232.7 1274.0h0.01M231.9 1292.7h0.01M229.7 1313.9h0.01M227.7 1335.2h0.01M225.9 1355.8h0.01M224.0 1376.4h0.01M222.5 1397.0h0.01M256.8 993.9h0.01M261.8 1003.2h0.01M255.6 1024.7h0.01M249.3 1046.3h0.01M247.6 1067.0h0.01M246.0 1087.6h0.01M244.3 1107.9h0.01M242.8 1128.4h0.01M241.2 1148.8h0.01M239.6 1169.4h0.01M238.1 1190.0h0.01M299.3 822.5h0.01M313.9 840.8h0.01M289.9 857.5h0.01M316.2 860.0h0.01M319.3 902.4h0.01M276.5 908.7h0.01M280.0 889.9h0.01M323.1 943.0h0.01M271.6 947.4h0.01M274.0 928.0h0.01M324.9 964.3h0.01M266.2 961.8h0.01M329.3 981.1h0.01M341.2 972.4h0.01M295.6 837.2h0.01M345.0 992.5h0.01M351.8 1012.5h0.01M358.1 1034.3h0.01M374.3 1038.7h0.01M391.2 1035.6h0.01M365.0 1041.2h0.01M382.5 1053.7h0.01M398.7 1053.7h0.01M403.7 1068.7h0.01M420.7 1081.9h0.01M414.5 1060.7h0.01M425.7 1096.9h0.01M433.9 1100.1h0.01M443.2 1106.9h0.01M449.5 1125.7h0.01M461.3 1127.5h0.01M469.5 1138.2h0.01M482.6 1130.0h0.01M494.5 1141.3h0.01M504.4 1127.5h0.01M516.3 1118.2h0.01M526.9 1102.6h0.01M535.1 1087.6h0.01M541.9 1067.6h0.01M546.9 1048.2h0.01M558.2 1029.2h0.01M565.0 1009.5h0.01M573.2 993.2h0.01M624.9 900.6h0.01M616.2 911.2h0.01M603.1 926.2h0.01M596.2 939.9h0.01M588.7 961.2h0.01M578.1 975.5h0.01M633.0 920.6h0.01M637.4 940.5h0.01M640.5 961.2h0.01M643.7 981.1h0.01M647.1 999.5h0.01M652.7 1008.2h0.01M670.8 1027.0h0.01M674.0 1047.0h0.01M680.2 1067.0h0.01M690.8 1062.0h0.01M695.2 1045.7h0.01M705.2 1058.8h0.01M713.3 1076.3h0.01M726.4 1080.7h0.01M735.6 1100.1h0.01M740.8 1115.1h0.01M753.9 1123.4h0.01M762.4 1141.9h0.01M773.9 1148.8h0.01M787.0 1151.3h0.01M797.0 1133.8h0.01M806.6 1121.3h0.01M816.4 1106.3h0.01M823.3 1086.3h0.01M831.4 1069.5h0.01M864.1 999.2h0.01M856.6 1018.2h0.01M851.0 1037.0h0.01M841.0 1056.3h0.01M969.0 997.0h0.01M976.2 1015.7h0.01M983.4 1033.9h0.01M993.0 1049.7h0.01M1004.0 1059.5h0.01M1014.0 1072.0h0.01M1026.8 1077.0h0.01M1039.3 1084.4h0.01M1047.1 1099.4h0.01M922.8 883.1h0.01M937.4 880.0h0.01M912.5 897.4h0.01M946.3 899.6h0.01M905.6 913.4h0.01M949.9 920.2h0.01M896.0 928.0h0.01M953.1 939.9h0.01M889.3 943.4h0.01M956.6 960.9h0.01M880.0 962.4h0.01M960.9 979.9h0.01M872.5 980.5h0.01M1049.9 1098.8h0.01M1059.2 1107.6h0.01M1066.1 1123.8h0.01M1078.6 1132.9h0.01M1091.1 1137.5h0.01M1096.1 1142.5h0.01M1109.5 1146.9h0.01M1122.6 1138.8h0.01M1133.6 1126.9h0.01M1143.2 1111.9h0.01M1154.2 1095.7h0.01M1157.9 1076.7h0.01M1164.8 1060.1h0.01M1173.3 1046.3h0.01M1178.5 1026.4h0.01M1186.0 1010.7h0.01M1192.3 993.2h0.01M1254.3 837.9h0.01M1266.2 836.6h0.01M1245.8 855.0h0.01M1270.6 856.8h0.01M1239.1 874.0h0.01M1273.1 876.8h0.01M1231.8 889.3h0.01M1275.6 897.4h0.01M1225.6 904.9h0.01M1278.7 918.1h0.01M1218.5 923.7h0.01M1281.2 938.7h0.01M1211.2 940.5h0.01M1283.1 958.7h0.01M1205.6 957.7h0.01M1288.7 979.3h0.01M1197.9 973.0h0.01M1191.9 990.5h0.01M1291.2 998.0h0.01M1301.9 1014.5h0.01M1308.1 1033.2h0.01M1311.8 1040.1h0.01M1319.3 1057.0h0.01M1331.8 1071.3h0.01M1345.0 1060.7h0.01M1360.6 1059.5h0.01M1371.8 1073.8h0.01M1380.6 1089.4h0.01M1396.8 1101.3h0.01M1404.3 1115.7h0.01M1419.3 1128.8h0.01M1433.0 1143.8h0.01M1443.6 1135.7h0.01M1456.1 1127.2h0.01M1464.9 1111.9h0.01M1472.5 1094.3h0.01M1488.1 1056.8h0.01M1494.3 1043.1h0.01M1509.3 1002.5h0.01M1520.6 963.1h0.01M1524.9 941.9h0.01M1480.0 1076.2h0.01M1502.4 1022.5h0.01M1514.9 982.5h0.01M1593.9 762.7h0.01M1587.1 780.2h0.01M1578.9 800.0h0.01M1573.4 815.3h0.01M1567.2 833.1h0.01M1560.6 850.6h0.01M1552.7 870.3h0.01M1546.5 889.9h0.01M1538.7 908.9h0.01M1532.5 927.6h0.01M1656.2 553.7h0.01M1651.8 573.7h0.01M1645.6 593.7h0.01M1641.2 613.1h0.01M1636.8 632.4h0.01M1629.9 651.8h0.01M1623.9 670.9h0.01M1618.1 691.2h0.01M1612.5 709.3h0.01M1605.0 728.0h0.01M1598.7 746.8h0.01M1700.5 340.0h0.01M1695.5 356.2h0.01M1692.4 377.5h0.01M1689.5 398.5h0.01M1684.3 418.7h0.01M1682.2 439.7h0.01M1676.8 459.3h0.01M1673.4 478.4h0.01M1669.3 495.5h0.01M1665.6 516.8h0.01M1661.4 534.6h0.01M1709.3 276.2h0.01M1706.2 297.5h0.01M1703.7 318.1h0.01"/>
<path class="c" stroke="#00ffff" d="M218.3 1440.7L217.4 1456.7M221.2 1393.5L220.4 1408.6M234.3 1204.7L233.7 1219.9M268.5 971.1L264.0 986.9M231.8 1251.1L230.4 1268.1M228.0 1299.0L226.5 1314.3M225.2 1345.8L224.1 1361.7M257.5 1015.9L253.7 1031.8M251.0 1062.8L248.3 1078.6M244.6 1109.6L241.6 1126.1M238.1 1157.2L236.2 1172.9M274.6 923.3L271.5 940.3M282.1 877.0L279.0 893.5M291.9 831.4L288.6 846.7M306.3 818.2L310.5 834.2M314.0 865.2L317.1 882.2M321.1 912.0L324.4 926.6M331.6 958.2L335.1 974.7M344.0 1003.2L348.5 1018.6M363.1 1046.1L368.7 1053.8M387.8 1039.4L392.7 1047.3M408.3 1064.4L415.9 1076.7M484.4 1138.2L492.6 1132.5M507.1 1107.3L516.8 1101.5M529.5 1074.2L537.4 1060.3M545.2 1031.2L552.4 1019.1M565.2 993.8L570.3 982.2M583.3 957.7L591.6 947.7M604.7 921.4L610.2 909.7M638.3 906.4L640.3 917.8M647.8 953.7L653.3 971.1M662.9 1002.1L667.6 1019.4M679.3 1042.4L685.5 1055.9M708.8 1053.0L717.9 1057.2M736.6 1078.5L746.9 1084.8M763.1 1105.1L771.0 1116.9M790.9 1134.3L801.3 1131.4M820.3 1117.1L831.3 1106.8M882.1 1011.0L874.8 1024.2M869.2 1035.4L862.8 1047.9M853.8 1070.5L846.3 1086.5M986.9 998.3L991.8 1013.8M1001.7 1039.3L1006.9 1051.5M1026.0 1057.1L1034.5 1049.3M932.2 887.1L924.7 901.5M915.2 931.1L909.2 946.2M898.1 974.1L892.0 987.0M965.2 908.2L968.5 922.9M974.1 953.8L978.3 969.8M1056.5 1055.5L1066.3 1060.3M1084.7 1078.9C1085.8 1080.6 1089.1 1085.1 1091.7 1089.4C1094.3 1093.8 1098.9 1102.3 1100.4 1104.8M1113.2 1127.9L1120.9 1126.6M1148.6 1093.7L1140.4 1105.1M1172.9 1062.2L1166.1 1074.8M1190.3 1018.8L1184.3 1033.3M1206.5 983.1L1199.7 994.1M1223.6 947.0L1216.3 959.7M1238.2 903.1L1232.9 918.7M1252.6 882.2L1258.5 889.6M1271.2 921.3L1274.9 936.6M1280.0 968.8L1283.6 983.5M1294.5 1014.0L1298.6 1028.7M1306.8 1047.9L1312.5 1059.1M1333.4 1057.7L1326.5 1068.7M1353.6 1057.6L1360.1 1067.0M1383.3 1081.2L1389.0 1094.0M1407.5 1110.3L1413.6 1121.1M1434.7 1129.0L1428.2 1139.9M1464.9 1103.2L1456.1 1111.9M1485.2 1064.1L1478.5 1078.3M1500.7 1023.4L1494.2 1036.5M1516.0 979.3L1510.1 993.8M1531.9 942.2L1524.8 955.9M1600.3 773.6L1595.8 789.6M1583.9 816.2L1578.5 832.2M1567.6 860.9L1562.9 874.7M1550.9 904.1L1544.7 917.6M1664.2 547.6L1660.0 563.0M1652.3 593.2L1648.2 608.6M1639.7 638.2L1635.1 654.2M1627.8 683.1L1623.3 698.0M1614.0 728.1L1609.0 744.8M1697.9 361.5L1695.7 377.9M1690.3 408.9L1687.7 424.1M1682.1 455.8L1679.0 471.6M1672.6 501.3L1669.2 517.2M1706.4 315.2L1703.4 331.0M430.5 1104.9C431.0 1106.2 431.4 1111.3 433.0 1112.4C434.7 1113.5 439.3 1111.6 440.5 1111.4M453.2 1140.7C453.7 1141.4 454.9 1144.8 456.3 1145.0C457.8 1145.2 461.0 1142.4 462.0 1141.9M620.6 881.2C621.5 879.4 625.1 871.1 626.4 870.2C627.8 869.3 628.3 874.7 628.7 875.6M946.2 864.7C947.2 865.5 950.6 867.6 952.2 869.7C953.8 871.8 955.3 876.2 955.9 877.5"/>
</g>
<g class="tick">
<text transform="translate(217.5 1532) scale(0.96 1.04)" text-anchor="middle">0</text>
<text transform="translate(466.2 1532) scale(0.96 1.04)" text-anchor="middle">5</text>
<text transform="translate(715.0 1532) scale(0.96 1.04)" text-anchor="middle">10</text>
<text transform="translate(963.8 1532) scale(0.96 1.04)" text-anchor="middle">15</text>
<text transform="translate(1212.5 1532) scale(0.96 1.04)" text-anchor="middle">20</text>
<text transform="translate(1461.2 1532) scale(0.96 1.04)" text-anchor="middle">25</text>
<text transform="translate(1710.0 1532) scale(0.96 1.04)" text-anchor="middle">30</text>
<text transform="translate(1958.8 1532) scale(0.96 1.04)" text-anchor="middle">35</text>
<text transform="translate(186 1477.8) scale(0.96 1.04)" text-anchor="end">0</text>
<text transform="translate(186 1243.8) scale(0.96 1.04)" text-anchor="end">2</text>
<text transform="translate(186 1009.8) scale(0.96 1.04)" text-anchor="end">4</text>
<text transform="translate(186 775.8) scale(0.96 1.04)" text-anchor="end">6</text>
<text transform="translate(186 541.8) scale(0.96 1.04)" text-anchor="end">8</text>
<text transform="translate(186 307.8) scale(0.96 1.04)" text-anchor="end">10</text>
<text transform="translate(186 73.8) scale(0.96 1.04)" text-anchor="end">12</text>
</g>
<text class="title" transform="translate(1087.5 1647) scale(1 1.02)" text-anchor="middle">Displacement (mm)</text>
<text class="ytitle" transform="translate(95 754) rotate(-90) scale(1 1.02)" text-anchor="middle">Crushing force (kN)</text>
<g class="legend">
<path class="c" shape-rendering="crispEdges" stroke="#000000" d="M338.6 164.3H500.8"/>
<text class="leg" transform="translate(519.4 189.2) scale(1 1.03)">d=0.5mm</text>
<path class="c" shape-rendering="crispEdges" stroke="#ff0000" stroke-dasharray="0.01 20.7" d="M338.6 254.3H500.8"/>
<text class="leg" transform="translate(519.4 279.2) scale(1 1.03)">d=1mm</text>
<path class="c" shape-rendering="crispEdges" stroke="#00ff00" stroke-dasharray="15.6 31.8" d="M338.6 343.8H500.8"/>
<text class="leg" transform="translate(519.4 368.7) scale(1 1.03)">d=1.5mm</text>
<path class="c" shape-rendering="crispEdges" stroke="#0000ff" d="M338.6 433.5H500.8"/>
<text class="leg" transform="translate(519.4 458.4) scale(1 1.03)">d=2mm</text>
<path class="c" shape-rendering="crispEdges" stroke="#ff00ff" stroke-dasharray="0.01 20.7" d="M338.6 523.2H500.8"/>
<text class="leg" transform="translate(519.4 548.1) scale(1 1.03)">d=2.5mm</text>
<path class="c" shape-rendering="crispEdges" stroke="#00ffff" stroke-dasharray="15.6 31.8" d="M338.6 612.7H500.8"/>
<text class="leg" transform="translate(519.4 637.6) scale(1 1.03)">d=3mm</text>
</g>
</svg>
</body>
</html>
